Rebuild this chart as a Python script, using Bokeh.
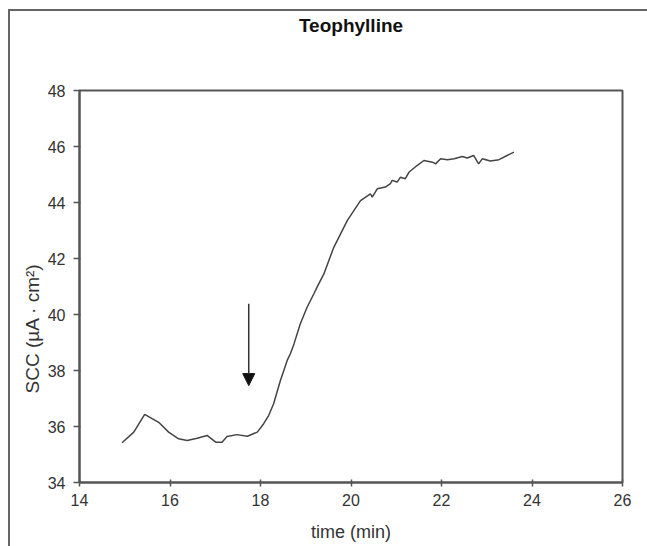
from bokeh.plotting import figure
from bokeh.models import Arrow, NormalHead, FixedTicker, Range1d, Title
from bokeh.embed import file_html
from bokeh.resources import INLINE

title_text = "Teophylline"
x_label = "time (min)"
y_label = "SCC (µA · cm²)"
x_ticks = [14, 16, 18, 20, 22, 24, 26]
y_ticks = [34, 36, 38, 40, 42, 44, 46, 48]

time_min = [14.94, 15.20, 15.44, 15.75, 15.97, 16.19, 16.38, 16.60, 16.82, 17.01,
            17.15, 17.26, 17.48, 17.71, 17.93, 18.07, 18.18, 18.29, 18.44, 18.59,
            18.66, 18.74, 18.88, 19.03, 19.18, 19.25, 19.40, 19.62, 19.92, 20.21,
            20.43, 20.47, 20.58, 20.76, 20.87, 20.91, 21.02, 21.09, 21.20, 21.28,
            21.46, 21.61, 21.80, 21.87, 21.98, 22.13, 22.28, 22.46, 22.57, 22.71,
            22.82, 22.90, 23.08, 23.27, 23.45, 23.60]
scc = [35.42, 35.80, 36.43, 36.15, 35.80, 35.56, 35.50, 35.58, 35.68, 35.44,
       35.44, 35.64, 35.71, 35.65, 35.80, 36.10, 36.39, 36.81, 37.64, 38.36,
       38.60, 38.95, 39.67, 40.26, 40.74, 40.98, 41.45, 42.40, 43.36, 44.07,
       44.31, 44.19, 44.49, 44.55, 44.67, 44.79, 44.73, 44.90, 44.85, 45.08,
       45.32, 45.50, 45.44, 45.38, 45.56, 45.53, 45.56, 45.64, 45.59, 45.68,
       45.38, 45.56, 45.48, 45.53, 45.68, 45.80]

arrow_x = 17.74
arrow_y_start = 40.38
arrow_y_end = 37.46

FONT = "Liberation Sans"
DARK = "#555555"

p = figure(width=647, height=546, output_backend="svg", toolbar_location=None,
           x_range=Range1d(14, 26), y_range=Range1d(34, 48),
           min_border_left=79, min_border_right=25, min_border_top=90, min_border_bottom=64)
p.xgrid.visible = False
p.ygrid.visible = False
p.outline_line_color = DARK
p.outline_line_width = 2
p.background_fill_color = "white"
p.border_fill_color = None

# spacer between the frame and the chart title, so the title sits near the top
p.add_layout(Title(text=" ", text_font_size="1px", standoff=47), "above")
p.title = Title(text=title_text, align="center", vertical_align="bottom",
                text_font=FONT, text_font_size="19px", text_font_style="bold",
                text_color="#111111", standoff=10)

for ax in (p.xaxis[0], p.yaxis[0]):
    ax.axis_line_color = DARK
    ax.axis_line_width = 2
    ax.major_tick_line_color = DARK
    ax.major_tick_line_width = 1.5
    ax.minor_tick_line_color = None
    ax.major_label_text_font = FONT
    ax.major_label_text_font_size = "16px"
    ax.major_label_text_color = "#333333"
    ax.axis_label_text_font = FONT
    ax.axis_label_text_font_size = "18px"
    ax.axis_label_text_font_style = "normal"
    ax.axis_label_text_color = "#333333"

p.xaxis.major_tick_in = 3
p.xaxis.major_tick_out = 4
p.yaxis.major_tick_in = 1
p.yaxis.major_tick_out = 6
p.xaxis.ticker = FixedTicker(ticks=x_ticks)
p.yaxis.ticker = FixedTicker(ticks=y_ticks)
p.xaxis.axis_label = x_label
p.xaxis.major_label_standoff = 7
p.xaxis.axis_label_standoff = 13
p.yaxis.major_label_standoff = 8

# y-axis title sits lower than the frame centre in the reference
ytitle = Title(text=y_label, align="left", offset=89, text_font=FONT,
               text_font_size="19px", text_font_style="normal", text_color="#333333",
               standoff=4)
p.add_layout(ytitle, "left")

p.line(time_min, scc, line_color="#444444", line_width=1.5)

p.add_layout(Arrow(end=NormalHead(size=12, fill_color="#111111", line_color="#111111"),
                   x_start=arrow_x, y_start=arrow_y_start, x_end=arrow_x, y_end=arrow_y_end,
                   line_color="#333333", line_width=1.5))

# picture frame (left and top edges) drawn on the page behind the transparent canvas
try:
    from bokeh.models import GlobalInlineStyleSheet
    page_css = GlobalInlineStyleSheet(css=(
        "html, body { margin: 0; padding: 0; overflow: hidden; }\n"
        "body { background-color: white;"
        " background-image: linear-gradient(#666666, #666666), linear-gradient(#666666, #666666);"
        " background-position: 8px 9px, 8px 9px;"
        " background-size: 2px 3000px, 3000px 2px;"
        " background-repeat: no-repeat, no-repeat; }"
    ))
    p.stylesheets = [page_css]
except Exception:
    p.border_fill_color = "white"

open("out.html", "w").write(file_html(p, INLINE))
